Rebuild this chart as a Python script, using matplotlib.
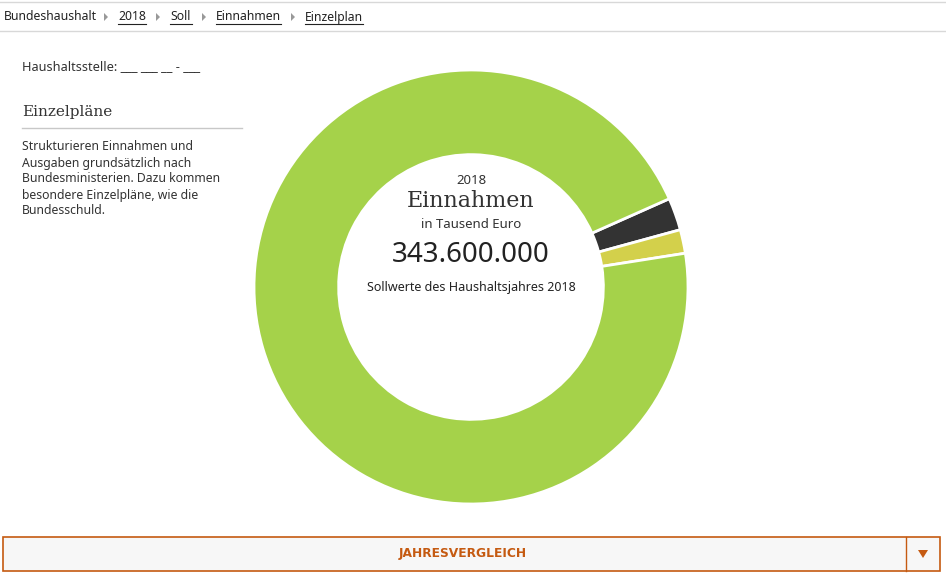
import matplotlib
matplotlib.use("Agg")
import matplotlib.pyplot as plt
from matplotlib.patches import Rectangle, Polygon

# Einnahmen 2018 nach Einzelplan (Tausend Euro), im Uhrzeigersinn
slice_names = ["Einzelplan B", "Einzelplan A", "Sonstige"]
slice_values = [8300000, 6060000, 329240000]
slice_colors = ["#333333", "#d3d04b", "#a5d24a"]
total_value = 343600000

crumbs = ["Bundeshaushalt", "2018", "Soll", "Einnahmen", "Einzelplan"]
crumb_x = [4, 118, 170, 216, 305]
crumb_w = [0, 28, 22, 65, 58]

info_lines = ["Strukturieren Einnahmen und",
              "Ausgaben grundsätzlich nach",
              "Bundesministerien. Dazu kommen",
              "besondere Einzelpläne, wie die",
              "Bundesschuld."]

W, H = 946, 577
fig = plt.figure(figsize=(W / 100, H / 100), dpi=100)
bg = fig.add_axes([0, 0, 1, 1])
bg.set_xlim(0, W)
bg.set_ylim(H, 0)
bg.axis("off")

sans = ["Noto Sans", "DejaVu Sans"]
serif = ["DejaVu Serif"]
txt = "#333333"

# breadcrumb bar
bg.plot([0, W], [2, 2], color="#d8d8d8", lw=1)
bg.plot([0, W], [31, 31], color="#d8d8d8", lw=1)
for i, (name, x, w) in enumerate(zip(crumbs, crumb_x, crumb_w)):
    bg.text(x, 17, name, fontsize=8.8, family=sans, color="#222222", va="center")
    if w:
        bg.plot([x, x + w], [24, 24], color="#222222", lw=0.8)
    if i < len(crumbs) - 1:
        tx = crumb_x[i + 1] - 12
        bg.add_patch(Polygon([[tx - 2, 13], [tx - 2, 21], [tx + 2, 17]],
                             closed=True, color="#999999", lw=0))

# left column
bg.text(22, 67, "Haushaltsstelle: ___ ___ __ - ___", fontsize=9.2, family=sans,
        color=txt, va="center")
bg.text(22, 112, "Einzelpläne", fontsize=11, family=serif, color=txt, va="center")
bg.plot([22, 242], [128, 128], color="#c8c8c8", lw=1)
for k, line in enumerate(info_lines):
    bg.text(22, 147 + 16 * k, line, fontsize=8.8, family=sans, color=txt, va="center")

# bottom toggle bar
bg.add_patch(Rectangle((3, 537), 937, 34, facecolor="#f7f7f7",
                       edgecolor="#c55a11", lw=1.2))
bg.plot([906, 906], [537, 571], color="#c55a11", lw=1)
bg.add_patch(Polygon([[918, 550], [928, 550], [923, 558]], closed=True,
                     color="#c55a11", lw=0))
bg.text(463, 553, "JAHRESVERGLEICH", fontsize=8.8, family=["DejaVu Sans"],
        weight="bold", color="#c55a11", ha="center", va="center")

# donut
cx, cy, r = 471, 287, 217
ax = fig.add_axes([(cx - r) / W, (H - cy - r) / H, 2 * r / W, 2 * r / H])
ax.pie(slice_values, colors=slice_colors, startangle=24, counterclock=False,
       radius=1.0, wedgeprops=dict(width=0.39, edgecolor="white", linewidth=2))
ax.set_xlim(-1, 1)
ax.set_ylim(-1, 1)
ax.axis("off")

amount = f"{total_value:,}".replace(",", ".")
bg.text(cx, 181, "2018", fontsize=9.5, family=sans, color=txt, ha="center", va="center")
bg.text(cx, 201, "Einnahmen", fontsize=16, family=serif, color=txt, ha="center", va="center")
bg.text(cx, 225, "in Tausend Euro", fontsize=9.5, family=sans, color=txt, ha="center", va="center")
bg.text(cx, 255, amount, fontsize=20, family=sans, color="#222222", ha="center", va="center")
bg.text(cx, 287, "Sollwerte des Haushaltsjahres 2018", fontsize=9, family=sans,
        color="#222222", ha="center", va="center")

fig.savefig("out.png", dpi=100, facecolor="white")
